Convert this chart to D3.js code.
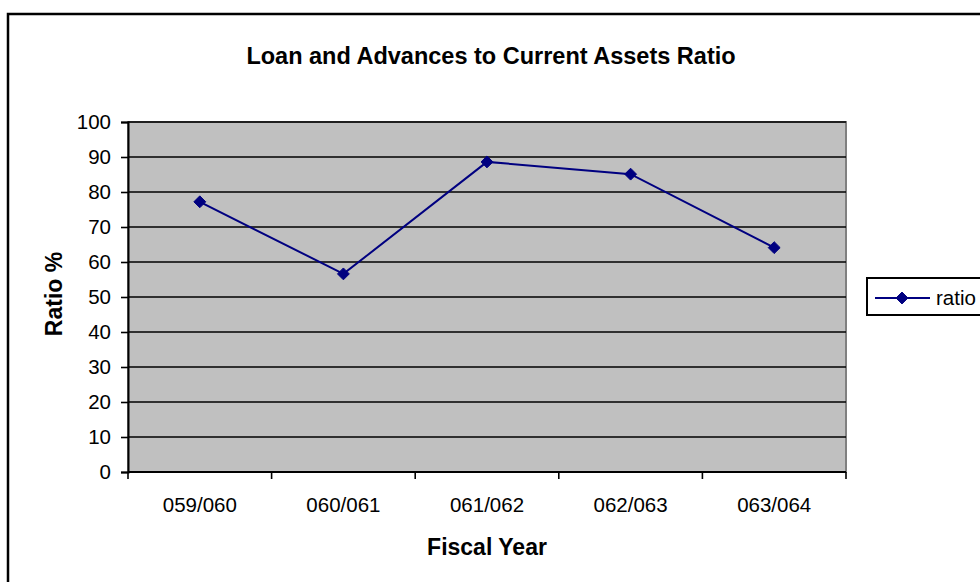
<!DOCTYPE html>
<html>
<head>
<meta charset="utf-8">
<script src="https://cdn.jsdelivr.net/npm/d3@7/dist/d3.min.js"></script>
<style>
  html, body { margin: 0; padding: 0; background: #fff; }
  svg { display: block; font-family: Arial, "Liberation Sans", sans-serif; }
</style>
</head>
<body>
<svg id="chart" width="980" height="582"></svg>
<script>
// Fiscal years and the loan-and-advances to current-assets ratio (%)
const years = ["059/060", "060/061", "061/062", "062/063", "063/064"];
const ratio = [77.2, 56.6, 88.6, 85.1, 64.1];
const yTicks = [0, 10, 20, 30, 40, 50, 60, 70, 80, 90, 100];
const seriesName = "ratio";

const svg = d3.select("#chart");
const plot = { left: 128, right: 846, top: 122, bottom: 472 };
const navy = "#000080";
const labelSize = 20.5;
const boldSize = 23;

// Outer chart frame
svg.append("rect")
  .attr("x", 8).attr("y", 14)
  .attr("width", 990).attr("height", 600)
  .attr("fill", "#fff").attr("stroke", "#000").attr("stroke-width", 2.5);

const x = d3.scaleBand().domain(years).range([plot.left, plot.right]);
const y = d3.scaleLinear().domain([0, 100]).range([plot.bottom, plot.top]);

// Plot background
svg.append("rect")
  .attr("x", plot.left).attr("y", plot.top)
  .attr("width", plot.right - plot.left).attr("height", plot.bottom - plot.top)
  .attr("fill", "#c0c0c0").attr("stroke", "#808080").attr("stroke-width", 2);

// Horizontal gridlines
svg.append("g").selectAll("line").data(yTicks.filter(d => d > 0)).join("line")
  .attr("x1", plot.left).attr("x2", plot.right)
  .attr("y1", d => y(d)).attr("y2", d => y(d))
  .attr("stroke", "#000").attr("stroke-width", 1.6);

// Y axis
const yAxis = svg.append("g")
  .attr("transform", `translate(${plot.left},0)`)
  .call(d3.axisLeft(y).tickValues(yTicks).tickSize(7).tickPadding(10));
yAxis.select(".domain").attr("stroke", "#000").attr("stroke-width", 2);
yAxis.selectAll(".tick line").attr("stroke", "#000").attr("stroke-width", 1.6);
yAxis.selectAll(".tick text").attr("font-size", labelSize).attr("fill", "#000")
  .attr("font-family", "Arial, 'Liberation Sans', sans-serif");

// X axis: ticks at category boundaries
const xAxis = svg.append("g")
  .attr("transform", `translate(0,${plot.bottom})`);
xAxis.append("line")
  .attr("x1", plot.left).attr("x2", plot.right)
  .attr("stroke", "#000").attr("stroke-width", 2);
const bounds = years.map(d => x(d)).concat([x(years[years.length - 1]) + x.bandwidth()]);
xAxis.selectAll("line.tk").data(bounds).join("line").attr("class", "tk")
  .attr("x1", d => d).attr("x2", d => d).attr("y1", 0).attr("y2", 7)
  .attr("stroke", "#000").attr("stroke-width", 1.6);
xAxis.selectAll("text").data(years).join("text")
  .attr("x", d => x(d) + x.bandwidth() / 2).attr("y", 40)
  .attr("text-anchor", "middle").attr("font-size", labelSize).attr("fill", "#000")
  .text(d => d);

// Series line
const line = d3.line().x((d, i) => x(years[i]) + x.bandwidth() / 2).y(d => y(d));
svg.append("path").datum(ratio)
  .attr("d", line).attr("fill", "none")
  .attr("stroke", navy).attr("stroke-width", 2);

// Diamond markers
const diamond = d3.symbol().type(d3.symbolDiamond2).size(90);
svg.append("g").selectAll("path").data(ratio).join("path")
  .attr("transform", (d, i) => `translate(${x(years[i]) + x.bandwidth() / 2},${y(d)})`)
  .attr("d", diamond).attr("fill", navy).attr("stroke", navy).attr("stroke-width", 1);

// Titles
svg.append("text")
  .attr("x", 491).attr("y", 64).attr("text-anchor", "middle")
  .attr("font-size", 23.5).attr("font-weight", "bold").text("Loan and Advances to Current Assets Ratio");
svg.append("text")
  .attr("x", 487).attr("y", 555).attr("text-anchor", "middle")
  .attr("font-size", boldSize).attr("font-weight", "bold").text("Fiscal Year");
svg.append("text")
  .attr("transform", "translate(62,294) rotate(-90)").attr("text-anchor", "middle")
  .attr("font-size", boldSize).attr("font-weight", "bold").text("Ratio %");

// Legend
const lg = svg.append("g").attr("transform", "translate(867,278)");
lg.append("rect").attr("width", 140).attr("height", 37)
  .attr("fill", "#fff").attr("stroke", "#000").attr("stroke-width", 2);
lg.append("line").attr("x1", 8).attr("x2", 63).attr("y1", 20).attr("y2", 20)
  .attr("stroke", navy).attr("stroke-width", 2);
lg.append("path").attr("transform", "translate(35,20)")
  .attr("d", diamond).attr("fill", navy).attr("stroke", navy);
lg.append("text").attr("x", 69).attr("y", 27).attr("font-size", labelSize).text(seriesName);
</script>
</body>
</html>
